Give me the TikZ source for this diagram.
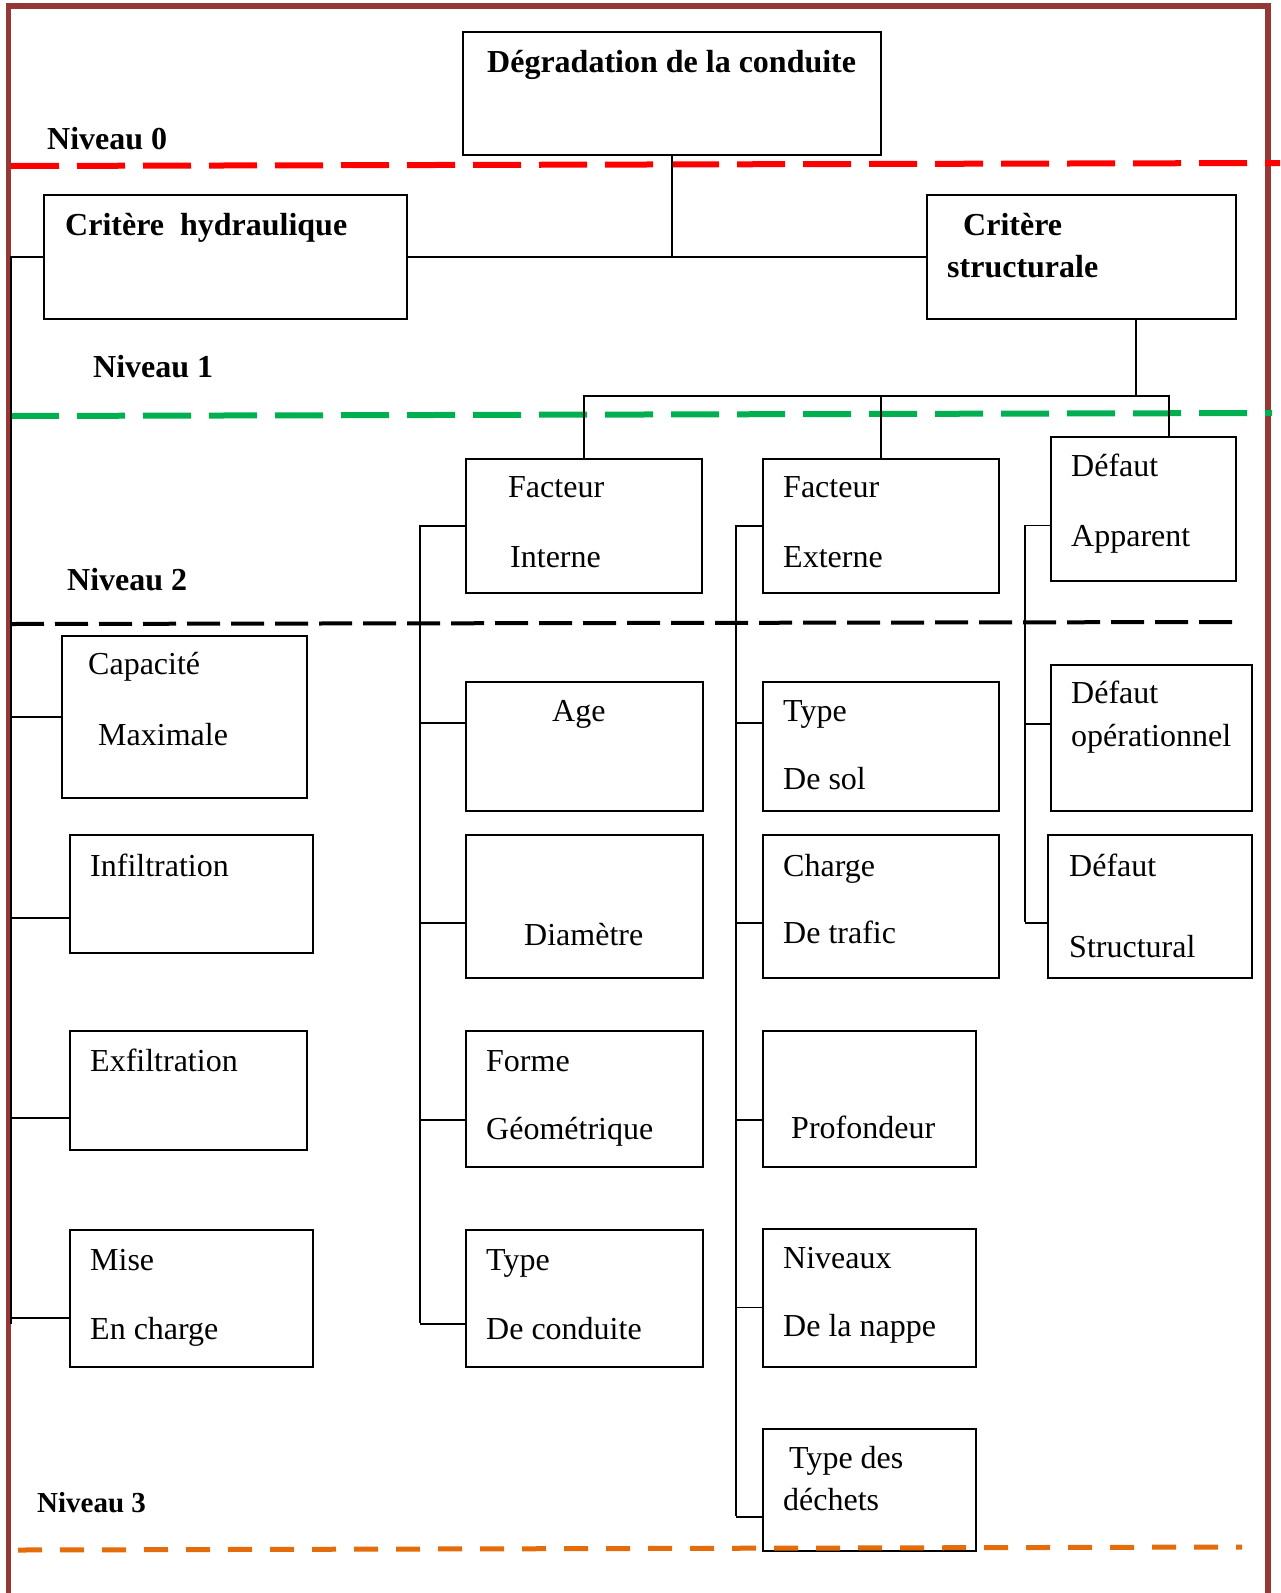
\documentclass[tikz,border=0pt]{standalone}
\usepackage{fontspec}
\setmainfont{Liberation Serif}
\usetikzlibrary{positioning}
\definecolor{cadre}{RGB}{149,55,53}
\definecolor{vert}{RGB}{0,176,80}
\definecolor{orangefonce}{RGB}{228,108,10}
\newcommand{\taille}{\fontsize{32}{38}\selectfont}

\begin{document}
\begin{tikzpicture}[x=1pt, y=1pt,
    boite/.style={draw, line width=2pt, anchor=north west, inner sep=0pt},
    lien/.style={line width=1.8pt},
    txt/.style={anchor=base west, inner sep=0pt, font=\taille},
    niv/.style={anchor=base west, inner sep=0pt, font=\taille\bfseries}]
  \useasboundingbox (0,0) rectangle (1280,-1593);

  % cadre et niveaux
  \draw[cadre, line width=5.5pt] (8.5,-1593) -- (8.5,-6) -- (1268,-6) -- (1268,-1593);
  \draw[red, line width=6pt, dash pattern=on 48pt off 18pt] (11,-166) -- (1280,-163);
  \draw[vert, line width=6pt, dash pattern=on 48pt off 18pt] (11,-416) -- (1272,-413);
  \draw[black, line width=4pt, dash pattern=on 33pt off 11pt] (11,-624) -- (1232,-622);

  \node[niv] (n0) at (47,-149) {Niveau 0};
  \node[niv] (n1) at (93,-377) {Niveau 1};
  \node[niv] (n2) at (67,-590) {Niveau 2};
  \node[niv, font=\fontsize{29}{35}\selectfont\bfseries] (n3) at (37,-1512) {Niveau 3};

  % niveau 0 et 1
  \node[boite, minimum width=418, minimum height=123] (deg) at (462,-31) {};
  \node[boite, minimum width=363, minimum height=124] (hyd) at (43,-194) {};
  \node[boite, minimum width=309, minimum height=124] (str) at (926,-194) {};
  \node[niv] (deg-t) at (487,-72) {Dégradation de la conduite};
  \node[niv] (hyd-t) at (65,-235) {Critère~ hydraulique};
  \node[niv] (str-t1) at (963,-235) {Critère};
  \node[niv] (str-t2) at (947,-277) {structurale};

  % niveau 2
  \node[boite, minimum width=236, minimum height=134] (fi) at (465,-458) {};
  \node[boite, minimum width=236, minimum height=134] (fe) at (762,-458) {};
  \node[boite, minimum width=185, minimum height=144] (app) at (1050,-436) {};
  \node[txt] (fi-t1) at (508,-497) {Facteur};
  \node[txt] (fi-t2) at (510,-567) {Interne};
  \node[txt] (fe-t1) at (783,-497) {Facteur};
  \node[txt] (fe-t2) at (783,-567) {Externe};
  \node[txt] (app-t1) at (1071,-476) {Défaut};
  \node[txt] (app-t2) at (1071,-546) {Apparent};

  % niveau 3
  \node[boite, minimum width=245, minimum height=162] (cap) at (61,-635) {};
  \node[boite, minimum width=243, minimum height=118] (inf) at (69,-834) {};
  \node[boite, minimum width=237, minimum height=119] (exf) at (69,-1030) {};
  \node[boite, minimum width=243, minimum height=137] (mise) at (69,-1229) {};
  \node[txt] (cap-t1) at (88,-674) {Capacité};
  \node[txt] (cap-t2) at (98,-745) {Maximale};
  \node[txt] (inf-t) at (90,-876) {Infiltration};
  \node[txt] (exf-t) at (90,-1071) {Exfiltration};
  \node[txt] (mise-t1) at (90,-1270) {Mise};
  \node[txt] (mise-t2) at (90,-1339) {En charge};

  \node[boite, minimum width=237, minimum height=129] (age) at (465,-681) {};
  \node[boite, minimum width=237, minimum height=143] (dia) at (465,-834) {};
  \node[boite, minimum width=237, minimum height=136] (forme) at (465,-1030) {};
  \node[boite, minimum width=237, minimum height=137] (tcond) at (465,-1229) {};
  \node[txt] (age-t) at (552,-721) {Age};
  \node[txt] (dia-t) at (524,-945) {Diamètre};
  \node[txt] (forme-t1) at (486,-1071) {Forme};
  \node[txt] (forme-t2) at (486,-1139) {Géométrique};
  \node[txt] (tcond-t1) at (486,-1270) {Type};
  \node[txt] (tcond-t2) at (486,-1339) {De conduite};

  \node[boite, minimum width=236, minimum height=129] (sol) at (762,-681) {};
  \node[boite, minimum width=236, minimum height=143] (trafic) at (762,-834) {};
  \node[boite, minimum width=213, minimum height=136] (prof) at (762,-1030) {};
  \node[boite, minimum width=213, minimum height=138] (nappe) at (762,-1228) {};
  \node[boite, minimum width=213, minimum height=122] (dech) at (762,-1428) {};
  \node[txt] (sol-t1) at (783,-721) {Type};
  \node[txt] (sol-t2) at (783,-789) {De sol};
  \node[txt] (trafic-t1) at (783,-876) {Charge};
  \node[txt] (trafic-t2) at (783,-943) {De trafic};
  \node[txt] (prof-t) at (791,-1138) {Profondeur};
  \node[txt] (nappe-t1) at (783,-1268) {Niveaux};
  \node[txt] (nappe-t2) at (783,-1336) {De la nappe};
  \node[txt] (dech-t1) at (789,-1468) {Type des};
  \node[txt] (dech-t2) at (783,-1510) {déchets};

  \node[boite, minimum width=201, minimum height=146] (ope) at (1050,-664) {};
  \node[boite, minimum width=204, minimum height=143] (stru) at (1047,-834) {};
  \node[txt] (ope-t1) at (1071,-703) {Défaut};
  \node[txt] (ope-t2) at (1071,-746) {opérationnel};
  \node[txt] (stru-t1) at (1069,-876) {Défaut};
  \node[txt] (stru-t2) at (1069,-957) {Structural};

  % liaisons
  \coordinate (bus) at (1136,-396);
  \coordinate (hbas) at (11,-1324);
  \coordinate (ibas) at (420,-1323);
  \coordinate (ebas) at (736,-1516);
  \coordinate (abas) at (1025,-922);

  \draw[lien] (deg.south) -- (deg.south |- hyd.east);
  \draw[lien] (hyd.east) -- (str.west);
  \draw[lien] (bus |- str.south) -- (bus);
  \draw[lien] (fi.north) |- (bus);
  \draw[lien] (fe.north) -- (fe.north |- bus);
  \draw[lien] (bus) -| (app.71);

  \draw[lien] (hyd.west) -| (hbas);
  \draw[lien] (cap.west) -- (cap.west -| hbas);
  \draw[lien] (inf.191) -- (inf.191 -| hbas);
  \draw[lien] (exf.193) -- (exf.193 -| hbas);
  \draw[lien] (mise.189) -- (mise.189 -| hbas);

  \draw[lien] (fi.west) -| (ibas);
  \draw[lien] (age.169) -- (age.169 -| ibas);
  \draw[lien] (dia.188) -- (dia.188 -| ibas);
  \draw[lien] (forme.190) -- (forme.190 -| ibas);
  \draw[lien] (tcond.192) -- (tcond.192 -| ibas);

  \draw[lien] (fe.west) -| (ebas);
  \draw[lien] (sol.169) -- (sol.169 -| ebas);
  \draw[lien] (trafic.188) -- (trafic.188 -| ebas);
  \draw[lien] (prof.191) -- (prof.191 -| ebas);
  \draw[lien] (nappe.185) -- (nappe.185 -| ebas);
  \draw[lien] (dech.194) -- (dech.194 -| ebas);

  \draw[lien] (app.190) -| (abas);
  \draw[lien] (ope.172) -- (ope.172 -| abas);
  \draw[lien] (stru.189) -- (stru.189 -| abas);

  \draw[orangefonce, line width=5pt, dash pattern=on 24pt off 18pt] (18,-1550) -- (1242,-1547);
\end{tikzpicture}
\end{document}
